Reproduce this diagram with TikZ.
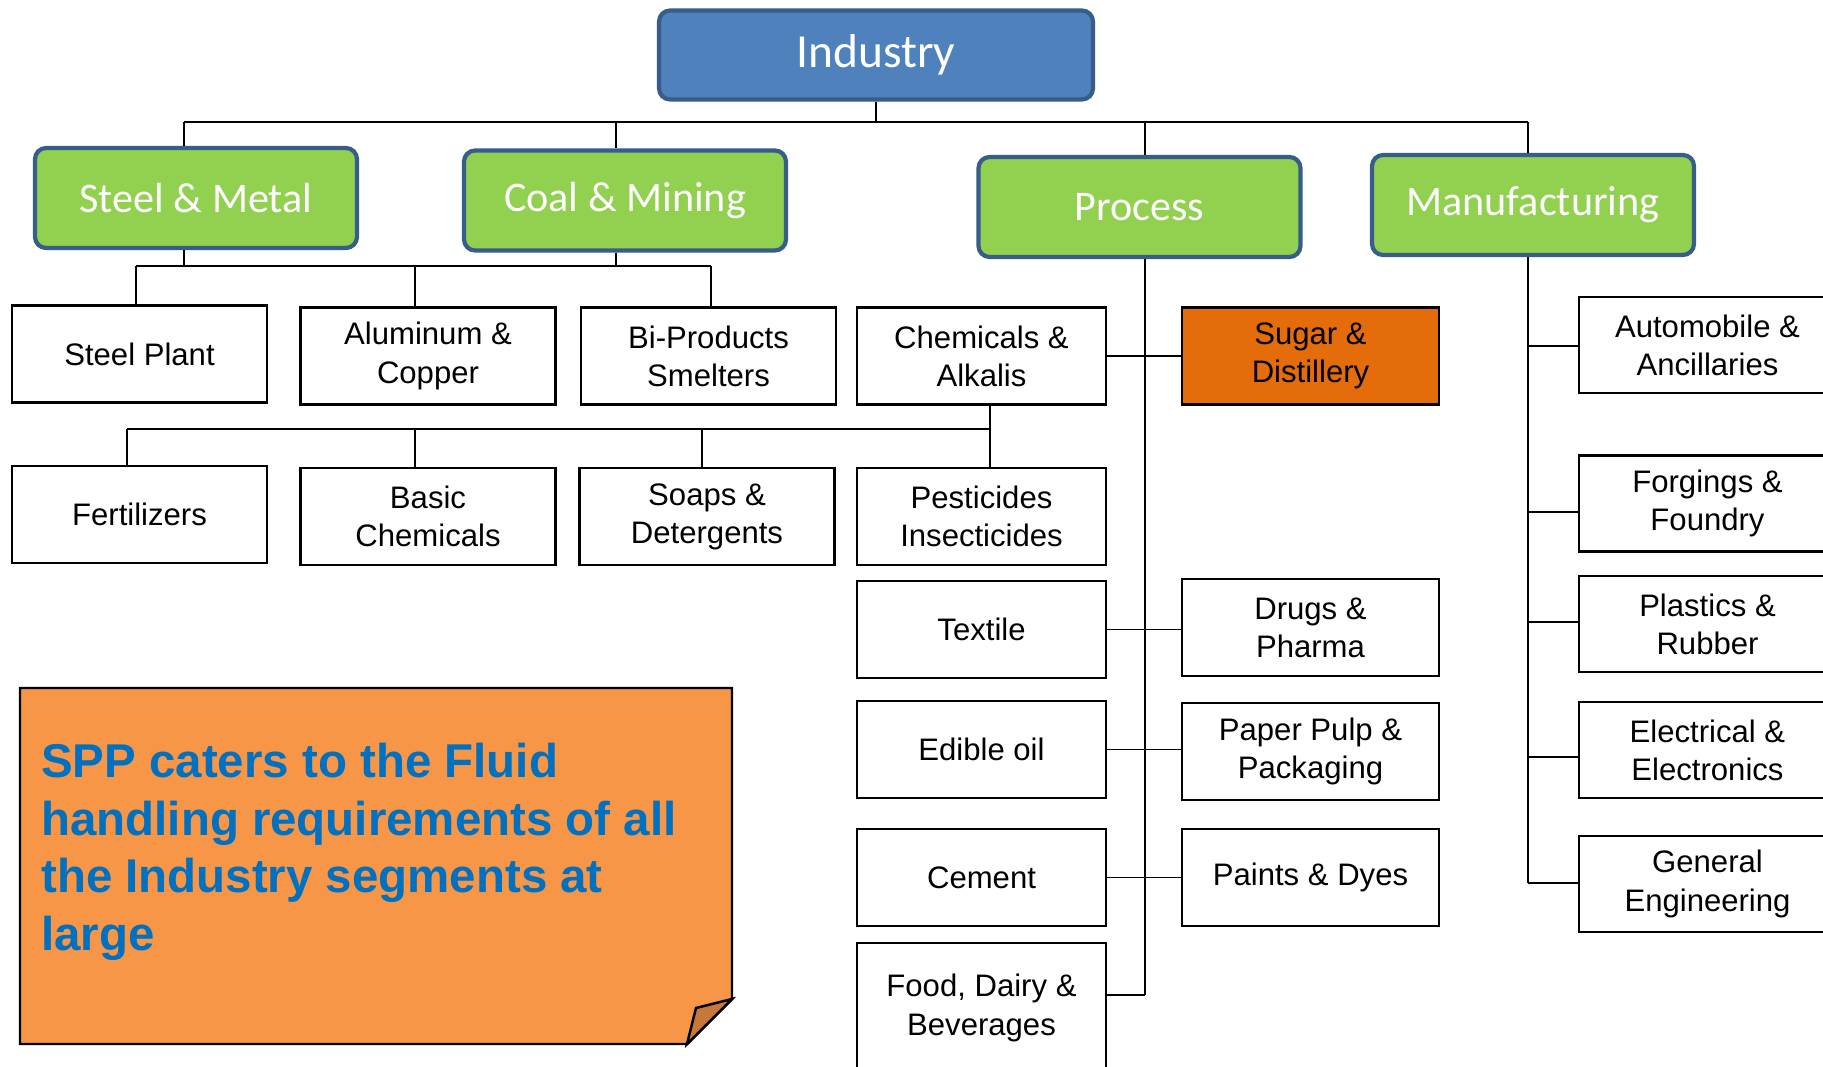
\documentclass[tikz,border=0pt]{standalone}
\usepackage{fontspec}
\setmainfont{Liberation Sans}
\newfontfamily\calibri{Carlito}
\usepackage{xcolor}
\usepackage{tikz}
\usetikzlibrary{shapes,arrows}

\definecolor{indblue}{HTML}{4F81BD}
\definecolor{edgeblue}{HTML}{385D8A}
\definecolor{segreen}{HTML}{92D050}
\definecolor{sugarorange}{HTML}{E46C0A}
\definecolor{noteorange}{HTML}{F79646}
\definecolor{foldorange}{HTML}{C8773A}
\definecolor{noteblue}{HTML}{0070C0}

\tikzstyle{head} = [draw=edgeblue, line width=2.4pt, rounded corners=0.22cm, text=white, inner sep=0pt, font=\calibri\fontsize{24}{28}\selectfont]
\tikzstyle{segment} = [head, fill=segreen, minimum width=6.44cm, minimum height=2cm]
\tikzstyle{leaf} = [draw, line width=1.2pt, align=center, minimum width=5.1cm, minimum height=1.94cm, inner sep=0pt, font=\fontsize{17.7}{21.7}\selectfont]
\tikzstyle{wideleaf} = [leaf, minimum width=5.14cm]
\tikzstyle{slimleaf} = [leaf, minimum width=4.98cm]
\tikzstyle{link} = [line width=1pt]

\begin{document}
\begin{tikzpicture}[x=0.02cm, y=-0.02cm]
    \path[fill=white, use as bounding box] (0,0) rectangle (1823,1067);

    % top level
    \node[head, fill=indblue, minimum width=8.68cm, minimum height=1.78cm, font=\calibri\fontsize{27}{32}\selectfont] (ind) at (876,55) {Industry};

    \node[segment] (steel) at (196,198) {Steel \& Metal};
    \node[segment] (coal) at (625,200.5) {Coal \& Mining};
    \node[segment] (proc) at (1139.5,207) {Process};
    \node[segment] (mfg) at (1533,205) {Manufacturing};

    % metal and mining
    \node[leaf] (splant) at (139.5,354) {Steel Plant};
    \node[leaf] (alu) at (428,356) {Aluminum \&\\Copper};
    \node[leaf] (bip) at (708.5,356) {Bi-Products\\Smelters};

    % process
    \node[slimleaf] (chem) at (981.5,356) {Chemicals \&\\Alkalis};
    \node[wideleaf, fill=sugarorange] (sugar) at (1310.5,356) {Sugar \&\\Distillery};

    \node[leaf] (fert) at (139.5,514.5) {Fertilizers};
    \node[leaf] (basic) at (428,516.5) {Basic\\Chemicals};
    \node[leaf] (soap) at (707,516.5) {Soaps \&\\Detergents};
    \node[slimleaf] (pest) at (981.5,516.5) {Pesticides\\Insecticides};

    \node[slimleaf] (textile) at (981.5,629.5) {Textile};
    \node[slimleaf] (edible) at (981.5,749.5) {Edible oil};
    \node[slimleaf] (cement) at (981.5,877.5) {Cement};
    \node[slimleaf, minimum height=2.6cm] (food) at (981.5,1008) {Food, Dairy \&\\Beverages};
    \node[wideleaf] (drugs) at (1310.5,627.5) {Drugs \&\\Pharma};
    \node[wideleaf] (paper) at (1310.5,751.5) {Paper Pulp \&\\Packaging};
    \node[wideleaf] (paints) at (1310.5,877.5) {Paints \& Dyes};

    % manufacturing
    \node[wideleaf, minimum height=1.92cm] (auto) at (1707.5,345) {Automobile \&\\Ancillaries};
    \node[wideleaf, minimum height=1.92cm] (forg) at (1707.5,503.5) {Forgings \&\\Foundry};
    \node[wideleaf, minimum height=1.92cm] (plast) at (1707.5,624) {Plastics \&\\Rubber};
    \node[wideleaf, minimum height=1.92cm] (elec) at (1707.5,750) {Electrical \&\\Electronics};
    \node[wideleaf, minimum height=1.92cm] (geng) at (1707.5,884) {General\\Engineering};

    % connectors
    \coordinate (t0) at (876,122);
    \coordinate (t1) at (184,122);
    \coordinate (t2) at (616,122);
    \coordinate (t3) at (1145,122);
    \coordinate (t4) at (1528,122);
    \draw[link] (ind.south) -- (t0);
    \draw[link] (t1) -- (t4);
    \draw[link] (t1) -- (t1 |- steel.north);
    \draw[link] (t2) -- (t2 |- coal.north);
    \draw[link] (t3) -- (t3 |- proc.north);
    \draw[link] (t4) -- (t4 |- mfg.north);

    \coordinate (a1) at (136,266);
    \coordinate (a2) at (415,266);
    \coordinate (a3) at (711,266);
    \draw[link] (a1) -- (a3);
    \draw[link] (t1 |- steel.south) -- (t1 |- a1);
    \draw[link] (t2 |- coal.south) -- (t2 |- a1);
    \draw[link] (a1) -- (a1 |- splant.north);
    \draw[link] (a2) -- (a2 |- alu.north);
    \draw[link] (a3) -- (a3 |- bip.north);

    \coordinate (c1) at (127,429);
    \coordinate (c2) at (415,429);
    \coordinate (c3) at (702,429);
    \coordinate (c4) at (990,429);
    \draw[link] (c1) -- (c4);
    \draw[link] (c4 |- chem.south) -- (c4 |- pest.north);
    \draw[link] (c1) -- (c1 |- fert.north);
    \draw[link] (c2) -- (c2 |- basic.north);
    \draw[link] (c3) -- (c3 |- soap.north);

    \coordinate (pend) at (1145,995);
    \draw[link] (t3 |- proc.south) -- (pend);
    \draw[link] (pend) -- (pend -| food.east);
    \draw[link] (chem.east) -- (chem.east -| sugar.west);
    \draw[link] (textile.east) -- (textile.east -| drugs.west);
    \draw[link] (edible.east) -- (edible.east -| paper.west);
    \draw[link] (cement.east) -- (paints.west);

    \coordinate (m1) at (1528,346);
    \coordinate (m2) at (1528,512);
    \coordinate (m3) at (1528,622);
    \coordinate (m4) at (1528,757);
    \coordinate (m5) at (1528,883);
    \draw[link] (t4 |- mfg.south) -- (m5);
    \draw[link] (m1) -- (m1 -| auto.west);
    \draw[link] (m2) -- (m2 -| forg.west);
    \draw[link] (m3) -- (m3 -| plast.west);
    \draw[link] (m4) -- (m4 -| elec.west);
    \draw[link] (m5) -- (m5 -| geng.west);

    % note
    \draw[line width=1.4pt, fill=noteorange] (20,688) -- (732,688) -- (732,999) -- (687,1044) -- (20,1044) -- cycle;
    \draw[line width=1.4pt, fill=foldorange] (732,999) -- (696,1008) -- (687,1044) -- cycle;
    \node[anchor=north west, align=left, inner sep=0pt, text=noteblue, font=\bfseries\fontsize{27}{32.7}\selectfont] (msg) at (41,743) {SPP caters to the Fluid\\handling requirements of all\\the Industry segments at\\large};
\end{tikzpicture}
\end{document}
